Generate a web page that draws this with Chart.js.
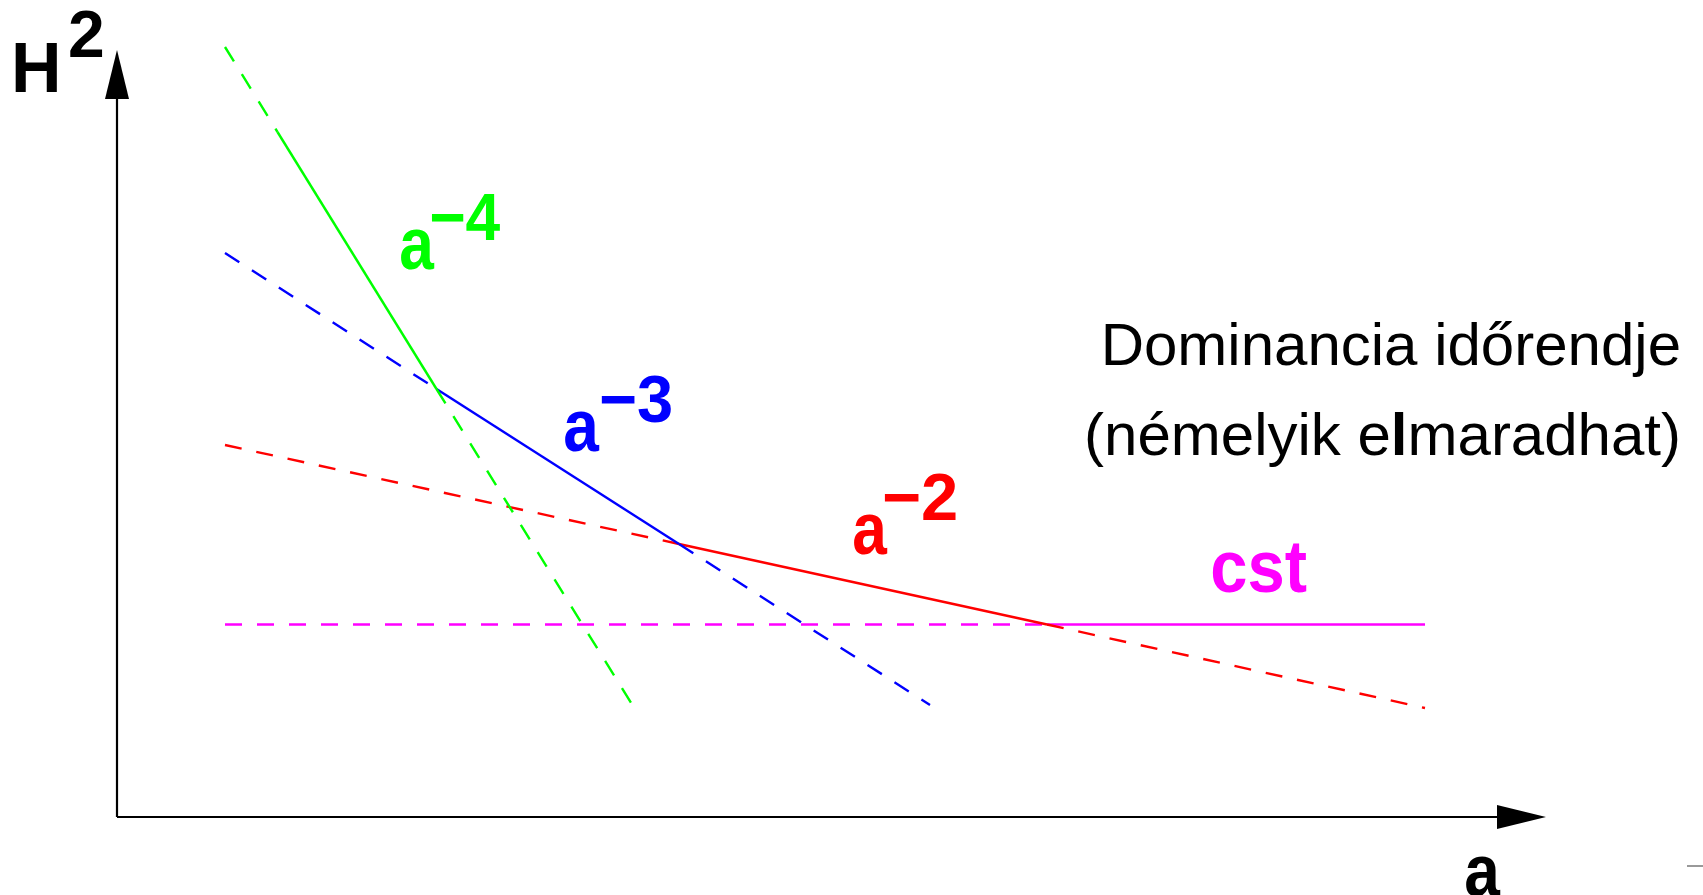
<!DOCTYPE html>
<html>
<head>
<meta charset="utf-8">
<script src="https://cdn.jsdelivr.net/npm/chart.js@4/dist/chart.umd.min.js"></script>
<style>
  html, body { margin: 0; padding: 0; background: #fff; overflow: hidden; }
  #wrap { width: 1703px; height: 895px; position: relative; }
</style>
</head>
<body>
<div id="wrap"><canvas id="c" width="1703" height="895"></canvas></div>
<script>
// ---- data (schematic units: horizontal ~ a, vertical ~ H^2) ----
const xRange = [0, 14.29];
const yRange = [0, 7.67];

// a^-4 (green): start, start of dominance, crossing with a^-3, end
const greenX = [1.08, 1.605, 3.195, 5.16];
const greenY = [7.70, 6.85, 4.28, 1.11];
const greenSolid = [false, true, false];

// a^-3 (blue): start, crossing with a^-4, crossing with a^-2, end
const blueX = [1.08, 3.195, 5.62, 8.13];
const blueY = [5.64, 4.28, 2.73, 1.12];
const blueSolid = [false, true, false];

// a^-2 (red): start, crossing with a^-3, crossing with cst, end
const redX = [1.08, 5.62, 9.30, 13.08];
const redY = [3.72, 2.73, 1.925, 1.09];
const redSolid = [false, true, false];

// cst (magenta): start, crossing with a^-2, end
const magX = [1.08, 9.30, 13.08];
const magY = [1.925, 1.925, 1.925];
const magSolid = [false, true];

const seriesLabels = ['a^-4', 'a^-3', 'a^-2', 'cst'];
const noteLines = ['Dominancia időrendje', '(némelyik elmaradhat)'];

// ---- styling / layout ----
const FONT = '"Liberation Sans", Arial, Helvetica, sans-serif';
const DASH = [17, 15];
const colors = { green: '#00ff00', blue: '#0000ff', red: '#ff0000', mag: '#ff00ff' };

function pts(xs, ys) { return xs.map((x, i) => ({ x: x, y: ys[i] })); }

function mkSet(label, xs, ys, solid, color) {
  return {
    label: label,
    data: pts(xs, ys),
    borderColor: color,
    backgroundColor: color,
    borderWidth: 2.4,
    pointRadius: 0,
    pointHoverRadius: 0,
    fill: false,
    tension: 0,
    clip: false,
    borderDash: DASH,
    segment: {
      borderDash: ctx => (solid[ctx.p0DataIndex] ? [] : DASH)
    }
  };
}

// text labels: position in chart units (ink left, baseline), target ink width in px
const labelLayout = [
  { t: 'a',  x: 2.84,  y: 5.48,  font: 'bold 75px ' + FONT, c: colors.green, w: 34 },
  { t: '−4', x: 3.14,  y: 5.77,  font: 'bold 67px ' + FONT, c: colors.green, w: 69 },
  { t: 'a',  x: 4.48,  y: 3.66,  font: 'bold 75px ' + FONT, c: colors.blue,  w: 35 },
  { t: '−3', x: 4.84,  y: 3.95,  font: 'bold 67px ' + FONT, c: colors.blue,  w: 70 },
  { t: 'a',  x: 7.37,  y: 2.63,  font: 'bold 75px ' + FONT, c: colors.red,   w: 34 },
  { t: '−2', x: 7.67,  y: 2.97,  font: 'bold 67px ' + FONT, c: colors.red,   w: 72 },
  { t: 'cst', x: 10.95, y: 2.25, font: 'bold 75px ' + FONT, c: colors.mag,   w: 95 },
  { t: 'a',  x: 13.49, y: -0.79, font: 'bold 75px ' + FONT, c: '#000',       w: 35 },
  { t: 'H',  x: -1.02, y: 7.25,  font: 'bold 70px ' + FONT, c: '#000',       w: 42 },
  { t: '2',  x: -0.47, y: 7.60,  font: 'bold 66px ' + FONT, c: '#000',       w: 33 }
];

function drawFitted(ctx, text, font, color, inkLeft, baseline, inkWidth) {
  ctx.font = font;
  const m = ctx.measureText(text);
  const w = m.actualBoundingBoxLeft + m.actualBoundingBoxRight;
  const sx = inkWidth ? inkWidth / w : 1;
  ctx.save();
  ctx.translate(inkLeft + m.actualBoundingBoxLeft * sx, baseline);
  ctx.scale(sx, 1);
  ctx.fillStyle = color;
  ctx.textAlign = 'left';
  ctx.textBaseline = 'alphabetic';
  ctx.fillText(text, 0, 0);
  ctx.restore();
}

function drawRich(ctx, parts, right, baseline) {
  let total = 0;
  parts.forEach(p => { ctx.font = p.font; p.w = ctx.measureText(p.t).width; total += p.w; });
  let x = right - total;
  ctx.textAlign = 'left';
  ctx.textBaseline = 'alphabetic';
  ctx.fillStyle = '#000';
  parts.forEach(p => { ctx.font = p.font; ctx.fillText(p.t, x, baseline); x += p.w; });
}

const decorPlugin = {
  id: 'decor',
  afterDraw(chart) {
    const ctx = chart.ctx;
    const a = chart.chartArea;
    const xs = chart.scales.x, ys = chart.scales.y;
    ctx.save();
    // axes with arrow heads
    ctx.strokeStyle = '#000';
    ctx.fillStyle = '#000';
    ctx.lineWidth = 2.2;
    const head = 49, half = 12;
    ctx.beginPath();
    ctx.moveTo(a.left, a.bottom);
    ctx.lineTo(a.right - head + 1, a.bottom);
    ctx.moveTo(a.left, a.bottom);
    ctx.lineTo(a.left, a.top + head - 1);
    ctx.stroke();
    ctx.beginPath();
    ctx.moveTo(a.right, a.bottom);
    ctx.lineTo(a.right - head, a.bottom - half);
    ctx.lineTo(a.right - head, a.bottom + half);
    ctx.closePath();
    ctx.fill();
    ctx.beginPath();
    ctx.moveTo(a.left, a.top);
    ctx.lineTo(a.left - half, a.top + head);
    ctx.lineTo(a.left + half, a.top + head);
    ctx.closePath();
    ctx.fill();

    // labels
    labelLayout.forEach(L => {
      drawFitted(ctx, L.t, L.font, L.c, xs.getPixelForValue(L.x), ys.getPixelForValue(L.y), L.w);
    });

    // note text, right aligned
    const reg = '60px ' + FONT, bold = 'bold 60px ' + FONT;
    const noteRight = xs.getPixelForValue(15.64);
    drawRich(ctx, [{ t: noteLines[0], font: reg }], noteRight, ys.getPixelForValue(4.52));
    drawRich(ctx, [
      { t: '(némelyik e', font: reg },
      { t: 'l', font: bold },
      { t: 'maradhat)', font: reg }
    ], noteRight, ys.getPixelForValue(3.62));

    // small grey mark at right edge
    ctx.strokeStyle = '#999';
    ctx.lineWidth = 2;
    ctx.beginPath();
    ctx.moveTo(1687, 866);
    ctx.lineTo(1703, 866);
    ctx.stroke();
    ctx.restore();
  }
};

new Chart(document.getElementById('c'), {
  type: 'line',
  data: {
    datasets: [
      mkSet(seriesLabels[0], greenX, greenY, greenSolid, colors.green),
      mkSet(seriesLabels[1], blueX, blueY, blueSolid, colors.blue),
      mkSet(seriesLabels[2], redX, redY, redSolid, colors.red),
      mkSet(seriesLabels[3], magX, magY, magSolid, colors.mag)
    ]
  },
  options: {
    responsive: false,
    animation: false,
    devicePixelRatio: 1,
    layout: { padding: { left: 117, top: 50, right: 1703 - 1546, bottom: 895 - 817 } },
    scales: {
      x: { type: 'linear', min: xRange[0], max: xRange[1], display: false },
      y: { type: 'linear', min: yRange[0], max: yRange[1], display: false }
    },
    plugins: { legend: { display: false }, tooltip: { enabled: false } },
    events: []
  },
  plugins: [decorPlugin]
});
</script>
</body>
</html>
